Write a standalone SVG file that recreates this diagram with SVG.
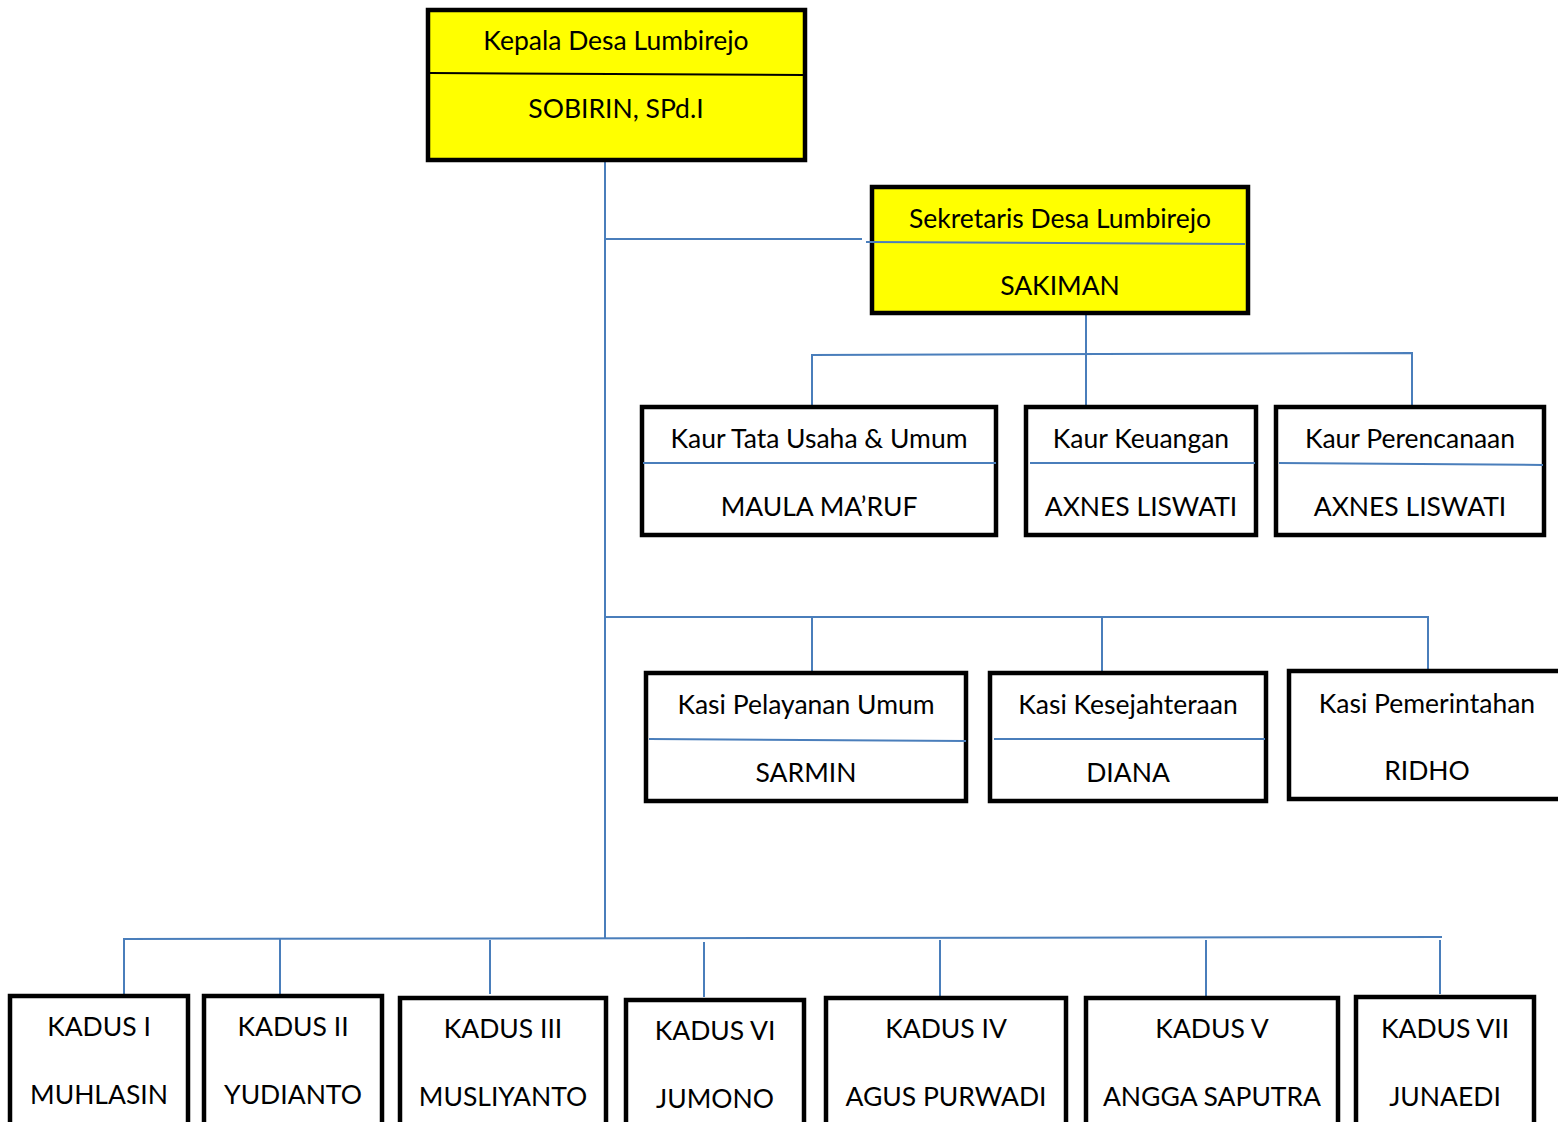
<svg xmlns="http://www.w3.org/2000/svg" width="1558" height="1122" viewBox="0 0 1558 1122">
<style>
.box{fill:#fff;stroke:#000;stroke-width:4.5}
.y{fill:#ffff00}
.c{fill:none;stroke:#4a7ebb;stroke-width:2}
.d{fill:none;stroke:#000;stroke-width:2}
text{font-family:Lato,"Open Sans","Liberation Sans",sans-serif;font-size:26.5px;fill:#000;text-anchor:middle}
</style>
<rect width="1558" height="1122" fill="#fff"/>
<g id="connectors">
<path class="c" d="M605 161V938"/>
<path class="c" d="M606 239H862"/>
<path class="c" d="M1086 314V406"/>
<path class="c" d="M812 406V355L1412 353V406"/>
<path class="c" d="M605 617H1428V670"/>
<path class="c" d="M812 617V672"/>
<path class="c" d="M1102 617V672"/>
<path class="c" d="M124 994V939L1442 937"/>
<path class="c" d="M280 939V994"/>
<path class="c" d="M490 940V994"/>
<path class="c" d="M704 942V997"/>
<path class="c" d="M940 940V996"/>
<path class="c" d="M1206 940V996"/>
<path class="c" d="M1440 940V994"/>
</g>
<g id="kepala">
<rect class="box y" x="428" y="10" width="377" height="150"/>
<path class="d" d="M430 73L803 75"/>
<text x="616" y="50">Kepala Desa Lumbirejo</text>
<text x="616" y="118">SOBIRIN, SPd.I</text>
</g>
<g id="sekretaris">
<rect class="box y" x="872" y="187" width="376" height="126"/>
<path class="c" d="M866 242L1245 244"/>
<text x="1060" y="228">Sekretaris Desa Lumbirejo</text>
<text x="1060" y="295">SAKIMAN</text>
</g>
<g id="kaur-tu">
<rect class="box" x="642" y="407" width="354" height="128"/>
<path class="c" d="M643 463H996"/>
<text x="819" y="448">Kaur Tata Usaha &amp; Umum</text>
<text x="819" y="516">MAULA MA’RUF</text>
</g>
<g id="kaur-keu">
<rect class="box" x="1026" y="407" width="230" height="128"/>
<path class="c" d="M1030 463H1255"/>
<text x="1141" y="448">Kaur Keuangan</text>
<text x="1141" y="516">AXNES LISWATI</text>
</g>
<g id="kaur-ren">
<rect class="box" x="1276" y="407" width="268" height="128"/>
<path class="c" d="M1279 463L1543 465"/>
<text x="1410" y="448">Kaur Perencanaan</text>
<text x="1410" y="516">AXNES LISWATI</text>
</g>
<g id="kasi-pu">
<rect class="box" x="646" y="673" width="320" height="128"/>
<path class="c" d="M649 739L966 741"/>
<text x="806" y="714">Kasi Pelayanan Umum</text>
<text x="806" y="782">SARMIN</text>
</g>
<g id="kasi-kes">
<rect class="box" x="990" y="673" width="276" height="128"/>
<path class="c" d="M994 739H1265"/>
<text x="1128" y="714">Kasi Kesejahteraan</text>
<text x="1128" y="782">DIANA</text>
</g>
<g id="kasi-pem">
<rect class="box" x="1289" y="671" width="280" height="128"/>
<text x="1427" y="713">Kasi Pemerintahan</text>
<text x="1427" y="780">RIDHO</text>
</g>
<g id="kadus1">
<rect class="box" x="10" y="996" width="178" height="140"/>
<text x="99" y="1036">KADUS I</text>
<text x="99" y="1104">MUHLASIN</text>
</g>
<g id="kadus2">
<rect class="box" x="204" y="996" width="178" height="140"/>
<text x="293" y="1036">KADUS II</text>
<text x="293" y="1104">YUDIANTO</text>
</g>
<g id="kadus3">
<rect class="box" x="400" y="998" width="206" height="140"/>
<text x="503" y="1038">KADUS III</text>
<text x="503" y="1106">MUSLIYANTO</text>
</g>
<g id="kadus6">
<rect class="box" x="626" y="1000" width="178" height="140"/>
<text x="715" y="1040">KADUS VI</text>
<text x="715" y="1108">JUMONO</text>
</g>
<g id="kadus4">
<rect class="box" x="826" y="998" width="240" height="140"/>
<text x="946" y="1038">KADUS IV</text>
<text x="946" y="1106">AGUS PURWADI</text>
</g>
<g id="kadus5">
<rect class="box" x="1086" y="998" width="252" height="140"/>
<text x="1212" y="1038">KADUS V</text>
<text x="1212" y="1106">ANGGA SAPUTRA</text>
</g>
<g id="kadus7">
<rect class="box" x="1356" y="997" width="178" height="140"/>
<text x="1445" y="1038">KADUS VII</text>
<text x="1445" y="1106">JUNAEDI</text>
</g>
</svg>
